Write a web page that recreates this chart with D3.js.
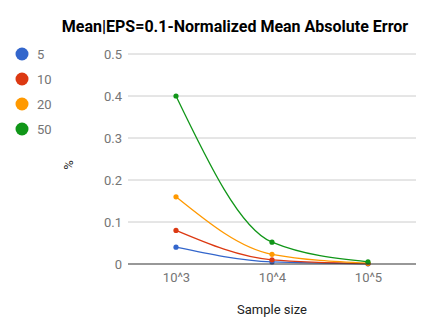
<!DOCTYPE html>
<html>
<head>
<meta charset="utf-8">
<script src="https://cdn.jsdelivr.net/npm/d3@7"></script>
<style>
  body { margin: 0; background: #fff; }
  text { font-family: Roboto, Arial, sans-serif; }
</style>
</head>
<body>
<div id="chart"></div>
<script>
// chart data
var categories = ["10^3", "10^4", "10^5"];
var seriesNames = ["5", "10", "20", "50"];
var seriesColors = ["#3366cc", "#dc3912", "#ff9900", "#109618"];
var values5 = [0.04, 0.005, 0.0005];
var values10 = [0.08, 0.01, 0.001];
var values20 = [0.16, 0.023, 0.002];
var values50 = [0.40, 0.052, 0.005];
var yTicks = [0, 0.1, 0.2, 0.3, 0.4, 0.5];

var series = [values5, values10, values20, values50];

var width = 433, height = 334;
var plot = {left: 128, right: 416, top: 54, bottom: 264};

var svg = d3.select("#chart").append("svg")
    .attr("width", width)
    .attr("height", height);

var x = d3.scalePoint()
    .domain(categories)
    .range([plot.left, plot.right])
    .padding(0.5);

var y = d3.scaleLinear()
    .domain([0, 0.5])
    .range([plot.bottom, plot.top]);

// title
svg.append("text")
    .attr("x", 235)
    .attr("y", 32)
    .attr("text-anchor", "middle")
    .style("font-size", "16px")
    .style("font-weight", "bold")
    .style("fill", "#000")
    .text("Mean|EPS=0.1-Normalized Mean Absolute Error");

// gridlines
svg.append("g").selectAll("line")
    .data(yTicks.slice(1))
    .enter().append("line")
    .attr("x1", plot.left)
    .attr("x2", plot.right)
    .attr("y1", function(d) { return y(d); })
    .attr("y2", function(d) { return y(d); })
    .style("stroke", "#cccccc")
    .style("stroke-width", 1);

// y axis labels
var yAxis = d3.axisLeft(y).tickValues(yTicks).tickSize(0).tickPadding(6)
    .tickFormat(function(d) { return d === 0 ? "0" : d3.format(".1f")(d); });
var gy = svg.append("g").attr("transform", "translate(" + plot.left + ",0)").call(yAxis);
gy.select(".domain").remove();
gy.selectAll("text").style("font-size", "13px").style("fill", "#757575").style("font-family", "Roboto, Arial, sans-serif");

// x axis labels
var xAxis = d3.axisBottom(x).tickSize(0).tickPadding(9);
var gx = svg.append("g").attr("transform", "translate(0," + plot.bottom + ")").call(xAxis);
gx.select(".domain").remove();
gx.selectAll("text").style("font-size", "13px").style("fill", "#757575").style("font-family", "Roboto, Arial, sans-serif");

// axis titles
svg.append("text")
    .attr("x", x(categories[1]))
    .attr("y", 314)
    .attr("text-anchor", "middle")
    .style("font-size", "13px")
    .style("fill", "#222")
    .text("Sample size");

svg.append("text")
    .attr("transform", "translate(73,165) rotate(-90)")
    .attr("text-anchor", "middle")
    .style("font-size", "13px")
    .style("fill", "#222")
    .text("%");

// lines, smoothed
var line = d3.line()
    .x(function(d, i) { return x(categories[i]); })
    .y(function(d) { return y(d); })
    .curve(d3.curveMonotoneX);

series.forEach(function(vals, k) {
    svg.append("path")
        .datum(vals)
        .attr("d", line)
        .style("fill", "none")
        .style("stroke", seriesColors[k])
        .style("stroke-width", 1.3);
    svg.append("g").selectAll("circle")
        .data(vals)
        .enter().append("circle")
        .attr("cx", function(d, i) { return x(categories[i]); })
        .attr("cy", function(d) { return y(d); })
        .attr("r", 2.6)
        .style("fill", seriesColors[k]);
});

// baseline
svg.append("line")
    .attr("x1", plot.left)
    .attr("x2", plot.right)
    .attr("y1", y(0))
    .attr("y2", y(0))
    .style("stroke", "#333333")
    .style("stroke-width", 1.2);

// legend
var legend = svg.append("g").selectAll("g")
    .data(seriesNames)
    .enter().append("g")
    .attr("transform", function(d, i) { return "translate(22," + (54 + i * 25) + ")"; });

legend.append("circle")
    .attr("r", 6.5)
    .style("fill", function(d, i) { return seriesColors[i]; });

legend.append("text")
    .attr("x", 15)
    .attr("dy", "0.35em")
    .style("font-size", "13px")
    .style("fill", "#757575")
    .text(function(d) { return d; });
</script>
</body>
</html>
